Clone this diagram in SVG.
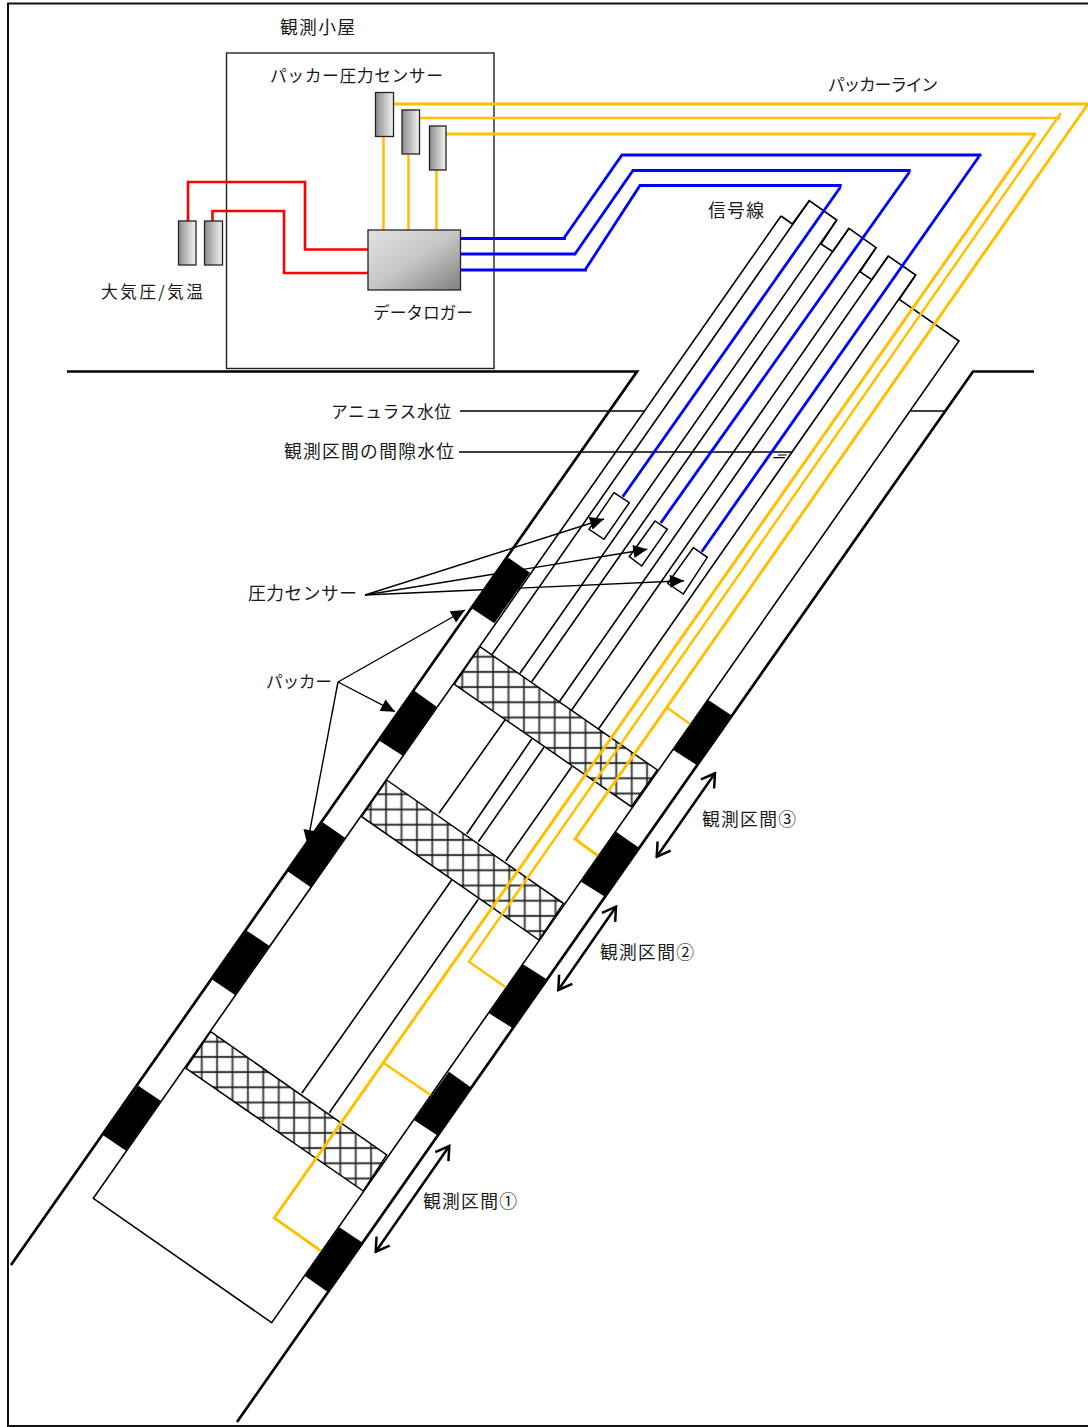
<svg xmlns="http://www.w3.org/2000/svg" width="1088" height="1427" viewBox="0 0 1088 1427">
<style>
text{font-family:"Noto Sans CJK JP","Noto Sans CJK SC",sans-serif;font-size:17.8px;fill:#1a1a1a}
.m{font-size:16.8px}
.thin{fill:none;stroke:#000;stroke-width:1.6}
.wall{fill:none;stroke:#000;stroke-width:2.7}
.blk{fill:#000;stroke:none}
.yel{fill:none;stroke:#FFC000;stroke-width:2.5}
.yelh{fill:none;stroke:#FFC000;stroke-width:3}
.blu{fill:none;stroke:#0000FF;stroke-width:2.8}
.red{fill:none;stroke:#FF0000;stroke-width:2.6}
.sens{fill:url(#gs);stroke:#222;stroke-width:1.3}
.tip{fill:#fff;stroke:#000;stroke-width:1.5}
.ar{fill:none;stroke:#000;stroke-width:1.4;marker-end:url(#solid)}
.dbl{fill:none;stroke:#000;stroke-width:2.5;marker-start:url(#open);marker-end:url(#open)}
</style>
<defs>
<linearGradient id="gs" x1="0" y1="0" x2="1" y2="0"><stop offset="0" stop-color="#8c8c8c"/><stop offset="1" stop-color="#f4f4f4"/></linearGradient>
<linearGradient id="gl" x1="0" y1="0" x2="1" y2="1"><stop offset="0" stop-color="#e2e2e2"/><stop offset="0.5" stop-color="#c6c6c6"/><stop offset="1" stop-color="#808080"/></linearGradient>
<marker id="solid" markerUnits="userSpaceOnUse" viewBox="-15 -8 16 16" markerWidth="16" markerHeight="16" refX="0" refY="0" orient="auto"><path d="M-14,-6.5 L0,0 L-14,6.5 Z" fill="#000"/></marker>
<marker id="open" markerUnits="userSpaceOnUse" viewBox="-16 -10 18 20" markerWidth="18" markerHeight="20" refX="0" refY="0" orient="auto-start-reverse"><path d="M-13,-8 L0,0 L-13,8" fill="none" stroke="#000" stroke-width="2.5"/></marker>
<pattern id="h1" patternUnits="userSpaceOnUse" x="454.6" y="649.1" width="15.4" height="15.2"><g id="cell"><path d="M7.7,0V15.2M0,7.6H15.4" stroke="#ccc" stroke-width="3"/><path d="M7.7,0V15.2M0,7.6H15.4" stroke="#111" stroke-width="1.2"/></g></pattern>
<pattern id="h2" patternUnits="userSpaceOnUse" x="363" y="786.7" width="15.4" height="15.2"><use href="#cell"/></pattern>
<pattern id="h3" patternUnits="userSpaceOnUse" x="194" y="1034.1" width="15.4" height="15.2"><use href="#cell"/></pattern>
</defs>
<rect width="1088" height="1427" fill="#fff"/>
<path d="M1088,3.5H8V1426H1088" fill="none" stroke="#111" stroke-width="2"/>

<g id="ground">
<path class="wall" d="M67,371.5H637L11,1265"/>
<path class="wall" d="M1034,371.5H973L237,1422"/>
</g>

<g id="shelter">
<rect x="226.5" y="53" width="267.5" height="315.5" fill="none" stroke="#222" stroke-width="1.4"/>
<text x="280" y="34" textLength="75" lengthAdjust="spacing">観測小屋</text>
</g>

<g id="casing">
<path class="thin" d="M781,216L93.3,1198.3L271.7,1322.7L959,341L899.3,299.3"/>
<path class="thin" d="M781,216L792.3,224"/>
<path class="thin" d="M792.3,224L809.3,200.7L836.7,220L821,244L832.7,251.7L849,228.3L876,247.7L860,271.7L871.7,279.7L888.3,256L915.7,275L899.3,299.3"/>
<path class="thin" d="M809.3,200.7L491.7,655M836.7,220L520,673.3M849,228.3L531.7,681.7M876,247.7L559.3,701.7M888.3,256L571.7,710M915.7,275L598.3,729.3"/>
<path class="thin" d="M505,720L439,813.3M531.7,739L466.7,834M544,747.3L478.3,841.7M571.7,766.7L505.7,861"/>
<path class="thin" d="M451.7,880L301.7,1093.3M478.3,899.3L329.3,1112.7"/>
</g>

<g id="seal-1"><path d="M480,646.7L657.3,770L631.3,806.7L454.3,684.3Z" fill="url(#h1)" stroke="#000" stroke-width="1.5"/></g>
<g id="seal-2"><path d="M386.7,780L563.3,903.3L539,940L361.7,816.7Z" fill="url(#h2)" stroke="#000" stroke-width="1.5"/></g>
<g id="seal-3"><path d="M210.7,1031.7L386.7,1155L363.3,1191L186,1068.3Z" fill="url(#h3)" stroke="#000" stroke-width="1.5"/></g>

<g id="packers">
<path class="blk" d="M506.7,556.7L530,572.7L494.3,623.3L471.7,608.3Z"/>
<path class="blk" d="M413.3,690L436.7,706.7L402.7,755.7L378.3,740Z"/>
<path class="blk" d="M322.7,822.3L345,837.7L310.7,887.3L287.3,871Z"/>
<path class="blk" d="M246.7,930.7L269.3,945.7L235,995L211.7,979.3Z"/>
<path class="blk" d="M138.3,1085.7L161,1101L126,1150.7L102.7,1135Z"/>
<path class="blk" d="M708.3,700L731,715L696.7,765L673.3,750Z"/>
<path class="blk" d="M616,831.7L638.3,847.3L605,896.7L581,881.7Z"/>
<path class="blk" d="M522.7,964L546.7,979.3L512.7,1028.3L489,1013.3Z"/>
<path class="blk" d="M449,1071.7L470.7,1087.3L438.3,1136L414,1120Z"/>
<path class="blk" d="M339.3,1227.3L362.7,1242.7L327.3,1291.7L305,1276Z"/>
<text class="m" x="266" y="687.5" textLength="66" lengthAdjust="spacing">パッカー</text>
</g>

<g id="connectors">
<path class="thin" d="M460,411H644M910,411H945M459,452H792.7"/>
<path d="M773.3,457.7H785M778,455H786.7" fill="none" stroke="#000" stroke-width="1.2"/>
<path class="yelh" d="M394,104H1088L575,839L597.7,855.7"/>
<path class="yel" d="M420,118H1060M1061,113L469,961.7L505.7,987.3"/>
<path class="yelh" d="M446,134H1036M1035,134L274.3,1218L320.7,1250.7"/>
<path class="yel" d="M667.7,708L690,724M383.3,1062.7L430.7,1095"/>
<path class="yel" d="M383.5,137V230M408.5,155V230M436.5,170V230"/>
<path class="red" d="M188,221V182H305V249.5H369M212.5,221V211H284V273H369"/>
<path class="blu" d="M461,238.5H566M461,254H576M461,270H587"/>
<path class="blu" d="M564,238L622,155H981.5M979,156.5L701.7,551.7"/>
<path class="blu" d="M575,254L633,170.5H910.7M909.5,172L660.7,523"/>
<path class="blu" d="M585,270L640,185.5H841.7M840.5,187L622.7,496.7"/>
<path class="ar" d="M338,682L465,610"/>
<path class="ar" d="M338,682L395,711.7"/>
<path class="ar" d="M338,682L307.3,844"/>
<path class="dbl" d="M715,773.3L656.7,856.7"/>
<path class="dbl" d="M616,906.7L558.3,990"/>
<path class="dbl" d="M449.3,1146L375.7,1251.7"/>
</g>

<g id="packer-sensors">
<rect class="sens" x="375.5" y="92.5" width="18" height="44"/>
<rect class="sens" x="402" y="110" width="17.5" height="44"/>
<rect class="sens" x="429.5" y="126" width="16.5" height="44"/>
<text class="m" x="270" y="81.5" textLength="173" lengthAdjust="spacing">パッカー圧力センサー</text>
<text class="m" x="828" y="91" textLength="110" lengthAdjust="spacing">パッカーライン</text>
</g>
<g id="atmos-sensors">
<rect class="sens" x="178.5" y="221" width="17.5" height="44"/>
<rect class="sens" x="204.5" y="221" width="18" height="44"/>
<text class="m" x="101" y="297.5" textLength="102" lengthAdjust="spacing">大気圧/気温</text>
</g>
<g id="logger">
<rect x="368" y="230" width="92.5" height="60" fill="url(#gl)" stroke="#222" stroke-width="1.3"/>
<text class="m" x="373" y="318.5" textLength="100" lengthAdjust="spacing">データロガー</text>
</g>

<g id="pressure-sensors">
<path class="tip" d="M614,492.7L629.3,502.7L604,539.3L589,529.3Z"/>
<path class="tip" d="M655,521L667.3,529.3L641.7,566L629.3,556.7Z"/>
<path class="tip" d="M693.3,547.7L707.3,557.3L683.3,594L667.7,583.3Z"/>
<path class="ar" d="M365,595L604,519"/>
<path class="ar" d="M365,595L647.3,549.3"/>
<path class="ar" d="M365,595L684,580.7"/>
<text x="248" y="600" textLength="109" lengthAdjust="spacing">圧力センサー</text>
</g>

<g id="labels">
<text x="708" y="216.5" textLength="56" lengthAdjust="spacing">信号線</text>
<text class="m" x="331" y="417.5" textLength="120" lengthAdjust="spacing">アニュラス水位</text>
<text x="284" y="458" textLength="170" lengthAdjust="spacing">観測区間の間隙水位</text>
<text x="702" y="825.5" textLength="94" lengthAdjust="spacing">観測区間③</text>
<text x="600" y="958.5" textLength="94" lengthAdjust="spacing">観測区間②</text>
<text x="423" y="1207.5" textLength="94" lengthAdjust="spacing">観測区間①</text>
</g>
</svg>
